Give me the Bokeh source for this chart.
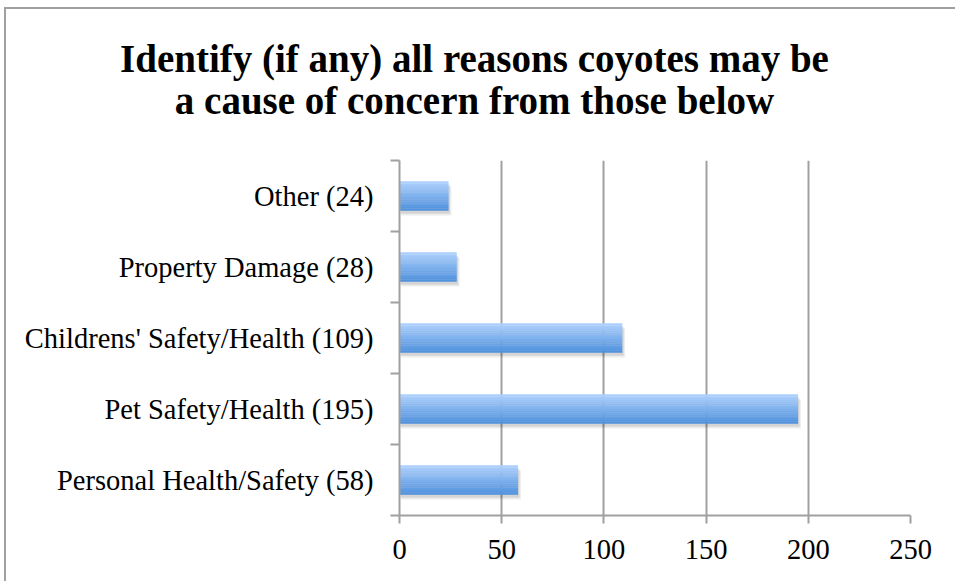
from bokeh.plotting import figure
from bokeh.models import FixedTicker, Range1d, Label
from bokeh.layouts import column
from bokeh.embed import file_html
from bokeh.resources import INLINE

# ---- data ----
categories = ["Personal Health/Safety", "Pet Safety/Health", "Childrens' Safety/Health",
              "Property Damage", "Other"]
counts = [58, 195, 109, 28, 24]
x_ticks = [0, 50, 100, 150, 200, 250]
title_lines = ["Identify (if any) all reasons coyotes may be",
               "a cause of concern from those below"]

FONT = "Liberation Serif"
GRID = "#a0a0a0"
OX, OY = 6, 9            # offset of content inside the document frame
W = 955 - OX
TH = 146                 # title strip height
CH = 581 - OY - TH       # chart height

# ---- title strip ----
t = figure(width=W, height=TH, output_backend="svg", toolbar_location=None,
           x_range=Range1d(0, W), y_range=Range1d(TH, 0),
           x_axis_location=None, y_axis_location=None,
           min_border_left=0, min_border_right=0, min_border_top=0, min_border_bottom=0,
           outline_line_color=None, background_fill_color="white",
           border_fill_color="white")
t.frame_align = False
t.xgrid.visible = False
t.ygrid.visible = False
for txt, base in zip(title_lines, [58, 100]):
    t.add_layout(Label(x=474 - OX, y=base - OY, text=txt,
                       text_align="center", text_baseline="alphabetic",
                       text_font=FONT, text_font_size="39px", text_font_style="bold",
                       text_color="black"))

# ---- chart ----
p = figure(width=W, height=CH, output_backend="svg", toolbar_location=None,
           x_range=Range1d(0, 250), y_range=Range1d(-0.5, len(categories) - 0.5),
           min_border_left=399 - OX, min_border_right=45, min_border_top=5,
           min_border_bottom=66, outline_line_color=None,
           background_fill_color="white", border_fill_color="white")
p.frame_align = False

idx = list(range(len(categories)))
bar_h = 0.41

# shadow
p.hbar(y=[i - 0.07 for i in idx], right=[c + 1.4 for c in counts], left=0.8, height=bar_h,
       fill_color="#000000", fill_alpha=0.07, line_color=None)
p.hbar(y=[i - 0.045 for i in idx], right=[c + 0.7 for c in counts], left=0.4, height=bar_h,
       fill_color="#000000", fill_alpha=0.10, line_color=None)

# gradient bars (sliced)
N = 16
top = (172, 207, 252)
bot = (80, 146, 222)
for k in range(N):
    f = k / (N - 1)
    col = tuple(int(round(bot[j] + (top[j] - bot[j]) * f)) for j in range(3))
    hex_col = "#%02x%02x%02x" % col
    step = bar_h / N
    ys = [i - bar_h / 2 + step * (k + 0.5) for i in idx]
    p.hbar(y=ys, right=counts, left=0, height=step * 1.15,
           fill_color=hex_col, line_color=None)

# x axis
p.xaxis.ticker = FixedTicker(ticks=x_ticks)
p.xaxis.axis_line_color = GRID
p.xaxis.axis_line_width = 2
p.xaxis.major_tick_line_color = GRID
p.xaxis.major_tick_line_width = 2
p.xaxis.major_tick_in = 0
p.xaxis.major_tick_out = 8
p.xaxis.minor_tick_line_color = None
p.xaxis.major_label_text_font = FONT
p.xaxis.major_label_text_font_size = "28.5px"
p.xaxis.major_label_text_color = "black"
p.xaxis.major_label_standoff = 16

# y axis: labels at centres, ticks at boundaries
p.yaxis.ticker = FixedTicker(ticks=idx, minor_ticks=[i - 0.5 for i in idx] + [len(idx) - 0.5])
p.yaxis.major_label_overrides = {i: f"{categories[i]} ({counts[i]})" for i in idx}
p.yaxis.axis_line_color = GRID
p.yaxis.axis_line_width = 2
p.yaxis.major_tick_line_color = None
p.yaxis.major_tick_in = 0
p.yaxis.major_tick_out = 0
p.yaxis.minor_tick_line_color = GRID
p.yaxis.minor_tick_line_width = 2
p.yaxis.minor_tick_in = 0
p.yaxis.minor_tick_out = 9
p.yaxis.major_label_text_font = FONT
p.yaxis.major_label_text_font_size = "28.5px"
p.yaxis.major_label_text_color = "black"
p.yaxis.major_label_standoff = 17

p.xgrid.ticker = FixedTicker(ticks=x_ticks[1:])
p.xgrid.grid_line_color = GRID
p.xgrid.grid_line_width = 2
p.ygrid.grid_line_color = None

layout = column(t, p, spacing=0,
                styles={"border-left": "2px solid #a0a0a0",
                        "border-top": "2px solid #a0a0a0",
                        "margin-left": "4px", "margin-top": "7px"})

open("out.html", "w").write(file_html(layout, INLINE))
